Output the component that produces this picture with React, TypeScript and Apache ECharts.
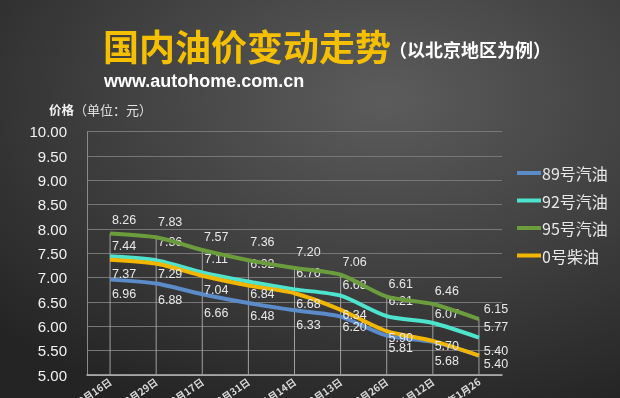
import React, { useEffect, useRef } from "react";
import * as echarts from "echarts";

const categories = [
  "2014年9月16日",
  "2014年9月29日",
  "2014年10月17日",
  "2014年10月31日",
  "2014年11月14日",
  "2014年12月13日",
  "2014年12月26日",
  "2015年1月12日",
  "2015年1月26",
];

const seriesNames = ["89号汽油", "92号汽油", "95号汽油", "0号柴油"];

// line positions
const values89 = [6.96, 6.88, 6.66, 6.48, 6.33, 6.2, 5.81, 5.68, 5.4];
const values92 = [7.44, 7.36, 7.11, 6.92, 6.76, 6.63, 6.21, 6.07, 5.77];
const values95 = [7.91, 7.83, 7.57, 7.36, 7.2, 7.06, 6.61, 6.46, 6.15];
const values0 = [7.37, 7.29, 7.04, 6.84, 6.68, 6.34, 5.9, 5.7, 5.4];

// data label texts as printed on the chart
const labels89 = ["6.96", "6.88", "6.66", "6.48", "6.33", "6.20", "5.81", "5.68", "5.40"];
const labels92 = ["7.44", "7.36", "7.11", "6.92", "6.76", "6.63", "6.21", "6.07", "5.77"];
const labels95 = ["8.26", "7.83", "7.57", "7.36", "7.20", "7.06", "6.61", "6.46", "6.15"];
const labels0 = ["7.37", "7.29", "7.04", "6.84", "6.68", "6.34", "5.90", "5.70", "5.40"];

const yMin = 5;
const yMax = 10;
const yInterval = 0.5;

const colors = ["#5b8bc8", "#4ee3cc", "#6c9d3c", "#f3b600"];

// small vertical label nudges (styling only) to mimic hand-placed labels
const nudge89 = [0, 2, 4, -2, 0, -4, -2, 4, -6];
const nudge92 = [3, -4, 0, -4, -3, 3, -1, 5, 3];
const nudge95 = [0, -2, 1, -4, -2, 1, 1, 1, 4];
const nudge0 = [4, 0, 4, -2, 0, -6, -4, -6, -15];

export default function App() {
  const ref = useRef<HTMLDivElement>(null);
  useEffect(() => {
    if (!ref.current) return;
    const chart = echarts.init(ref.current, null, { renderer: "svg" });
    const labelFont = {
      fontSize: 12.5,
      fontFamily: "Liberation Sans, Arial, sans-serif",
      color: "#e8e8e8",
    };
    const mkLine = (
      idx: number,
      values: number[],
      labels: string[],
      nudge: number[],
      pos: "top" | "bottom",
      dist: number
    ) => ({
      name: seriesNames[idx],
      type: "line",
      data: values,
      smooth: 0.25,
      symbol: "circle",
      symbolSize: 0.5,
      showSymbol: true,
      z: 3 + idx,
      lineStyle: { width: 4, color: colors[idx] },
      itemStyle: { color: colors[idx] },
      labelLayout: (p: any) => ({
        dx: p.dataIndex === values.length - 1 ? 17 : 14,
        dy: nudge[p.dataIndex],
        hideOverlap: false,
      }),
      label: {
        show: true,
        position: pos,
        distance: dist,
        ...labelFont,
        formatter: (p: any) => labels[p.dataIndex],
      },
    });
    chart.setOption({
      animation: false,
      backgroundColor: {
        type: "radial",
        x: 0.62,
        y: 0.25,
        r: 0.85,
        colorStops: [
          { offset: 0, color: "#5c5c5c" },
          { offset: 0.55, color: "#3e3e3e" },
          { offset: 1, color: "#242424" },
        ],
      },
      graphic: [
        {
          type: "text",
          left: 103,
          top: 27,
          style: {
            text: "国内油价变动走势",
            fill: "#f5c000",
            font: "bold 36px 'Noto Sans CJK SC', sans-serif",
          },
        },
        {
          type: "text",
          left: 389,
          top: 40,
          style: {
            text: "（以北京地区为例）",
            fill: "#ffffff",
            font: "bold 18px 'Noto Sans CJK SC', sans-serif",
          },
        },
        {
          type: "text",
          left: 104,
          top: 72,
          style: {
            text: "www.autohome.com.cn",
            fill: "#ffffff",
            font: "bold 18px 'Liberation Sans', Arial, sans-serif",
          },
        },
        {
          type: "text",
          left: 49,
          top: 103,
          style: {
            text: "{b|价格}{n|（单位：元）}",
            rich: {
              b: {
                fontSize: 12.5,
                fontWeight: "bold",
                fontFamily: "Noto Sans CJK SC",
                fill: "#f0f0f0",
                color: "#f0f0f0",
              },
              n: {
                fontSize: 13,
                fontFamily: "Noto Sans CJK SC",
                fill: "#e0e0e0",
                color: "#e0e0e0",
              },
            },
          },
        },
      ],
      legend: {
        orient: "vertical",
        left: 512,
        top: 159,
        icon: "rect",
        itemWidth: 24,
        itemHeight: 4,
        itemGap: 9.5,
        data: seriesNames,
        textStyle: {
          color: "#e8e8e8",
          fontSize: 16,
          lineHeight: 18,
          fontFamily: "Noto Sans CJK SC, sans-serif",
          padding: [0, 0, 0, -4],
        },
      },
      grid: {
        left: 87,
        right: 118,
        top: 131.7,
        bottom: 23,
        containLabel: false,
        outerBoundsMode: "none",
      },
      xAxis: {
        type: "category",
        data: categories,
        boundaryGap: true,
        axisLine: { show: true, lineStyle: { color: "#b8b8b8", width: 1.5 } },
        axisTick: { show: false },
        splitLine: { show: false },
        axisLabel: {
          rotate: 35,
          interval: 0,
          fontSize: 10,
          fontWeight: "bold",
          color: "#d8d8d8",
          margin: 5,
          fontFamily: "Noto Sans CJK SC, sans-serif",
        },
      },
      yAxis: {
        type: "value",
        min: yMin,
        max: yMax,
        interval: yInterval,
        axisLine: { show: true, lineStyle: { color: "#8a8a8a", width: 1 } },
        axisTick: { show: false },
        splitLine: { show: true, lineStyle: { color: "#777777", width: 1 } },
        axisLabel: {
          color: "#f2f2f2",
          fontSize: 15,
          margin: 20,
          fontFamily: "Liberation Sans, Arial, sans-serif",
          formatter: (v: number) => v.toFixed(2),
        },
      },
      series: [
        {
          name: "drop",
          type: "bar",
          data: values95,
          barWidth: 1,
          silent: true,
          z: 1,
          itemStyle: { color: "#a0a0a0" },
          label: { show: false },
        },
        mkLine(0, values89, labels89, nudge89, "bottom", 8),
        mkLine(1, values92, labels92, nudge92, "top", 7),
        mkLine(2, values95, labels95, nudge95, "top", 7),
        mkLine(3, values0, labels0, nudge0, "bottom", 4),
      ],
    });
    return () => chart.dispose();
  }, []);
  return (
    <div
      ref={ref}
      style={{ position: "fixed", left: 0, top: 0, width: 620, height: 398 }}
    />
  );
}
